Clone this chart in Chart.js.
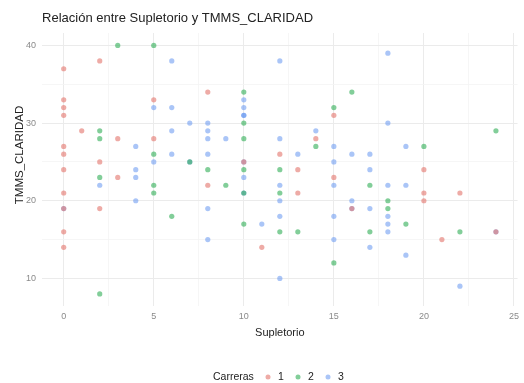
<!DOCTYPE html>
<html>
<head>
<meta charset="utf-8">
<script src="https://cdn.jsdelivr.net/npm/chart.js@4"></script>
<style>
html,body{margin:0;padding:0;background:#fff;}
#wrap{width:524px;height:383px;}
</style>
</head>
<body>
<div id="wrap"><canvas id="c" width="524" height="383"></canvas></div>
<script>
// ---- Data ----
const carreras = ["1", "2", "3"];
const colors = ["rgba(228,120,112,0.62)", "rgba(40,170,80,0.58)", "rgba(100,150,240,0.55)"];

const x1 = [0,0,0,0,0,0,0,0,0,0,0, 1, 2,2,2, 3,3, 5,5, 8,8, 10, 11, 12, 13,13, 14, 15,15, 16, 20,20,20, 21, 22, 24];
const y1 = [37,33,32,31,27,26,24,21,19,16,14, 29, 38,25,19, 28,23, 33,28, 34,22, 25, 14, 26, 24,21, 28, 31,23, 19, 24,21,20, 15, 21, 16];

const x2 = [2,2,2,2, 3, 5,5,5,5, 6, 7, 8, 9, 10,10,10,10,10,10, 12,12,12, 13, 14, 15,15, 16, 17,17, 18,18, 19, 20, 22, 24];
const y2 = [29,28,23,8, 40, 40,26,22,21, 18, 25, 24, 22, 34,30,28,24,21,17, 24,21,16, 16, 27, 32,12, 34, 22,16, 20,19, 17, 27, 16, 29];

const x3 = [0, 2, 4,4,4,4, 5,5, 6,6,6,6, 7,7, 8,8,8,8,8,8, 9, 10,10,10,10,10,10,10, 11, 12,12,12,12,12,12, 13, 14, 15,15,15,15,15, 16,16,16, 17,17,17,17, 18,18,18,18,18,18, 19,19,19, 22, 24];
const y3 = [19, 22, 27,24,23,20, 32,25, 38,32,29,26, 30,25, 30,29,28,26,19,15, 28, 33,32,31,31,25,23,21, 17, 38,28,22,20,18,10, 26, 29, 27,25,22,18,15, 26,20,19, 26,24,19,14, 39,30,22,18,17,16, 27,22,13, 9, 16];

const xTicks = [0, 2.5, 5, 7.5, 10, 12.5, 15, 17.5, 20, 22.5, 25];
const yTicks = [10, 15, 20, 25, 30, 35, 40];

const title = "Relación entre Supletorio y TMMS_CLARIDAD";
const xTitle = "Supletorio";
const yTitle = "TMMS_CLARIDAD";
const legendTitle = "Carreras";

// ---- Build ----
const xs = [x1, x2, x3], ys = [y1, y2, y3];
const datasets = carreras.map((c, i) => ({
  label: c,
  data: xs[i].map((x, j) => ({x: x, y: ys[i][j]})),
  backgroundColor: colors[i],
  borderWidth: 0,
  pointRadius: 2.6,
  pointHoverRadius: 2.6
}));

const FONT = "'Liberation Sans', Arial, sans-serif";
const major = "#ebebeb", minor = "#f4f4f4";

const textPlugin = {
  id: 'ggText',
  afterDraw(chart) {
    const ctx = chart.ctx;
    ctx.save();
    // y axis title
    ctx.save();
    ctx.font = "11.5px " + FONT;
    ctx.fillStyle = "#222";
    ctx.textAlign = "center";
    ctx.textBaseline = "middle";
    ctx.translate(19.5, 155);
    ctx.rotate(-Math.PI / 2);
    ctx.fillText(yTitle, 0, 0);
    ctx.restore();
    // legend
    ctx.font = "10.5px " + FONT;
    ctx.fillStyle = "#222";
    ctx.textBaseline = "middle";
    ctx.textAlign = "left";
    const y = 377;
    ctx.fillText(legendTitle, 213, y);
    const dotX = [268, 298, 328];
    carreras.forEach((c, i) => {
      ctx.beginPath();
      ctx.fillStyle = colors[i];
      ctx.arc(dotX[i], y, 2.5, 0, Math.PI * 2);
      ctx.fill();
      ctx.fillStyle = "#222";
      ctx.fillText(c, dotX[i] + 10, y);
    });
    ctx.restore();
  }
};

new Chart(document.getElementById('c'), {
  type: 'scatter',
  data: {datasets},
  plugins: [textPlugin],
  options: {
    responsive: false,
    animation: false,
    devicePixelRatio: 1,
    layout: {padding: {left: 0, right: 0, top: 0, bottom: 30}},
    plugins: {
      legend: {display: false},
      tooltip: {enabled: false},
      title: {
        display: true,
        text: title,
        align: 'start',
        fullSize: false,
        color: "#222",
        font: {family: FONT, size: 13, weight: 'normal'},
        padding: {top: 11, bottom: 6.4}
      }
    },
    scales: {
      x: {
        type: 'linear',
        min: -1.2, max: 25.2,
        border: {display: false},
        afterBuildTicks: ax => { ax.ticks = xTicks.map(v => ({value: v})); },
        afterFit: ax => { ax.height = 46.6; },
        grid: {
          drawTicks: false,
          color: c => (c.tick && c.tick.value % 5 === 0) ? major : minor,
          lineWidth: c => (c.tick && c.tick.value % 5 === 0) ? 1 : 0.8
        },
        ticks: {
          padding: 5,
          color: "#8a8a8a",
          font: {family: FONT, size: 9},
          maxRotation: 0,
          autoSkip: false,
          callback: v => (v % 5 === 0 ? String(v) : '')
        },
        title: {
          display: true,
          text: xTitle,
          color: "#222",
          font: {family: FONT, size: 11},
          padding: {top: 0, bottom: 13.4}
        }
      },
      y: {
        type: 'linear',
        min: 6.4, max: 41.6,
        border: {display: false},
        afterBuildTicks: ax => { ax.ticks = yTicks.map(v => ({value: v})); },
        afterFit: ax => { ax.width = 42.1; },
        grid: {
          drawTicks: false,
          color: c => (c.tick && c.tick.value % 10 === 0) ? major : minor,
          lineWidth: c => (c.tick && c.tick.value % 10 === 0) ? 1 : 0.8
        },
        ticks: {
          padding: 6,
          color: "#8a8a8a",
          font: {family: FONT, size: 9},
          autoSkip: false,
          callback: v => (v % 10 === 0 ? String(v) : '')
        },
        title: {display: false}
      }
    }
  }
});
</script>
</body>
</html>
